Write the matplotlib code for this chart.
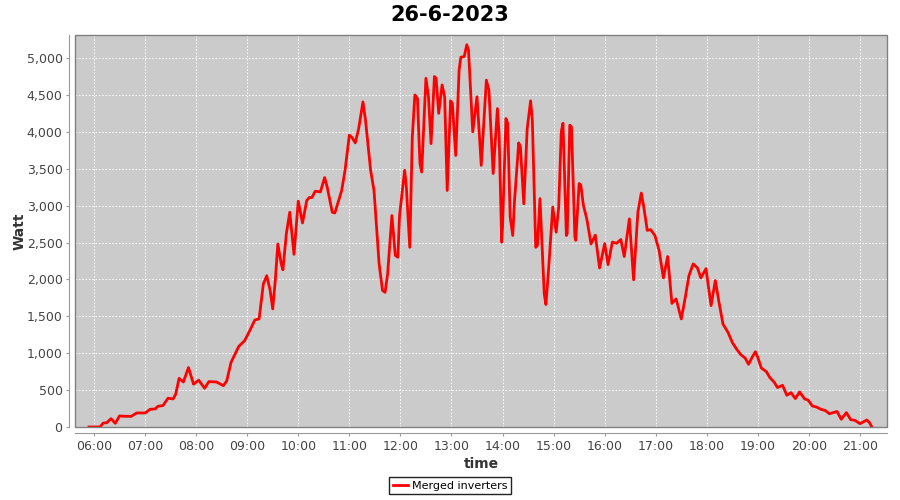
import matplotlib
matplotlib.use('Agg')
import matplotlib.pyplot as plt
from matplotlib.ticker import FuncFormatter, MultipleLocator
from matplotlib.patches import Rectangle

# Readings of the merged inverters on 26-6-2023 (time, watt)
times = ['05:54', '06:07', '06:11', '06:15', '06:20', '06:25', '06:30', '06:36', '06:44', '06:50',
         '07:00', '07:06', '07:12', '07:15', '07:21', '07:27', '07:33', '07:36', '07:40', '07:45',
         '07:51', '07:57', '08:03', '08:10', '08:15', '08:24', '08:32', '08:36', '08:41', '08:50',
         '08:57', '09:03', '09:09', '09:14', '09:19', '09:23', '09:27', '09:30', '09:33', '09:36',
         '09:40', '09:42', '09:46', '09:50', '09:55', '10:00', '10:05', '10:10', '10:13', '10:16',
         '10:20', '10:26', '10:31', '10:34', '10:40', '10:43', '10:51', '10:55', '11:00', '11:03',
         '11:07', '11:11', '11:16', '11:19', '11:25', '11:29', '11:35', '11:39', '11:42', '11:45',
         '11:50', '11:54', '11:57', '11:59', '12:05', '12:07', '12:11', '12:14', '12:17', '12:20',
         '12:23', '12:25', '12:30', '12:33', '12:36', '12:40', '12:42', '12:45', '12:49', '12:52',
         '12:55', '12:59', '13:01', '13:05', '13:09', '13:11', '13:15', '13:18', '13:20', '13:25',
         '13:30', '13:35', '13:41', '13:44', '13:49', '13:54', '13:56', '13:59', '14:00', '14:04',
         '14:06', '14:09', '14:12', '14:14', '14:19', '14:21', '14:25', '14:29', '14:33', '14:35',
         '14:39', '14:41', '14:44', '14:49', '14:51', '14:54', '14:59', '15:03', '15:06', '15:09',
         '15:11', '15:15', '15:16', '15:19', '15:21', '15:25', '15:26', '15:30', '15:32', '15:35',
         '15:39', '15:44', '15:49', '15:54', '16:00', '16:04', '16:09', '16:14', '16:19', '16:23',
         '16:29', '16:34', '16:39', '16:43', '16:46', '16:50', '16:54', '16:59', '17:04', '17:09',
         '17:14', '17:19', '17:24', '17:30', '17:34', '17:39', '17:44', '17:49', '17:53', '17:59',
         '18:05', '18:10', '18:14', '18:19', '18:25', '18:30', '18:35', '18:40', '18:45', '18:49',
         '18:53', '18:57', '19:00', '19:04', '19:10', '19:14', '19:19', '19:23', '19:29', '19:34',
         '19:39', '19:44', '19:49', '19:55', '19:59', '20:04', '20:09', '20:14', '20:19', '20:24',
         '20:33', '20:38', '20:44', '20:49', '20:54', '21:00', '21:04', '21:08', '21:11', '21:14']
watt = [0, 0, 54, 58, 113, 50, 150, 145, 145, 190,
        190, 240, 245, 280, 290, 390, 380, 445, 660, 610,
        805, 580, 635, 525, 615, 610, 560, 625, 875, 1090,
        1170, 1305, 1450, 1465, 1940, 2050, 1850, 1600, 1985, 2480,
        2210, 2130, 2620, 2910, 2340, 3060, 2765, 3070, 3110, 3110,
        3195, 3185, 3380, 3250, 2910, 2900, 3205, 3480, 3955, 3925,
        3850, 4045, 4405, 4160, 3480, 3205, 2210, 1850, 1825, 2075,
        2865, 2325, 2300, 2865, 3480, 3250, 2435, 3930, 4500, 4455,
        3570, 3455, 4725, 4475, 3840, 4750, 4725, 4250, 4635, 4475,
        3205, 4420, 4385, 3680, 4840, 5010, 5020, 5180, 5110, 4000,
        4475, 3545, 4700, 4565, 3435, 4315, 3955, 2505, 2710, 4180,
        4115, 2845, 2595, 3050, 3850, 3795, 3025, 4045, 4420, 4160,
        2435, 2460, 3095, 1805, 1660, 2120, 2980, 2640, 2980, 4000,
        4115, 2595, 2620, 4090, 4065, 2575, 2530, 3300, 3275, 3005,
        2820, 2480, 2600, 2155, 2485, 2200, 2505, 2490, 2540, 2310,
        2820, 1995, 2910, 3170, 2980, 2665, 2675, 2595, 2390, 2020,
        2310, 1675, 1735, 1465, 1710, 2050, 2210, 2155, 2020, 2145,
        1645, 1985, 1710, 1395, 1280, 1145, 1055, 980, 935, 850,
        940, 1020, 940, 800, 750, 670, 610, 535, 565, 430,
        465, 385, 475, 380, 365, 285, 270, 240, 225, 180,
        210, 105, 195, 100, 90, 45, 70, 95, 60, 0]
hour_ticks = ['06:00', '07:00', '08:00', '09:00', '10:00', '11:00', '12:00', '13:00',
              '14:00', '15:00', '16:00', '17:00', '18:00', '19:00', '20:00', '21:00']


def to_min(s):
    h, m = s.split(':')
    return int(h) * 60 + int(m)


x = [to_min(t) for t in times]

plt.rcParams['font.family'] = ['DejaVu Sans']
fig = plt.figure(figsize=(9, 5), dpi=100)
ax = fig.add_axes([75 / 900, 1 - 427 / 500, 812 / 900, 392 / 500])
ax.set_facecolor('#cbcbcb')

ax.plot(x, watt, color='#ff0000', lw=2.0, label='Merged inverters', zorder=3)

ax.set_xlim(337.7, 1291.7)
ax.set_ylim(0, 5312)
ax.set_xticks([to_min(t) for t in hour_ticks])
ax.set_xticklabels(hour_ticks)
ax.yaxis.set_major_locator(MultipleLocator(500))
ax.yaxis.set_major_formatter(FuncFormatter(lambda v, p: '{:,.0f}'.format(v)))

ax.grid(True, color='white', ls=(0, (2, 2)), lw=0.6, zorder=1)
ax.set_axisbelow(True)

# offset axes and plot outline
for s in ['top', 'right']:
    ax.spines[s].set_visible(False)
for s in ['left', 'bottom']:
    ax.spines[s].set_position(('outward', 4))
    ax.spines[s].set_color('#999999')
    ax.spines[s].set_linewidth(0.8)
ax.add_patch(Rectangle((0, 0), 1, 1, transform=ax.transAxes, fill=False,
                       edgecolor='#808080', lw=1, zorder=4, clip_on=False))
ax.tick_params(axis='both', length=2, width=0.8, color='#999999',
               labelcolor='#444444', labelsize=9, pad=3)

ax.set_xlabel('time', fontsize=10, color='#333333', fontweight='bold', labelpad=3)
ax.set_ylabel('Watt', fontsize=10, color='#333333', fontweight='bold', labelpad=0)
fig.suptitle('26-6-2023', fontsize=15, fontweight='bold', y=0.99)

fig.legend(loc='lower center', bbox_to_anchor=(0.5, 0.0), fontsize=8,
           frameon=True, fancybox=False, edgecolor='#222222', framealpha=1,
           handlelength=1.4, handletextpad=0.3, borderpad=0.35)

fig.savefig('out.png', dpi=100)
